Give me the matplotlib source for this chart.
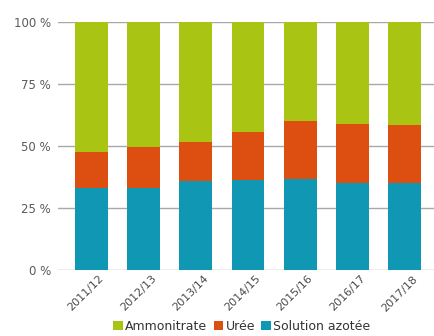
import matplotlib.pyplot as plt
import matplotlib.transforms as mtransforms
import numpy as np

campagnes = ["2011/12", "2012/13", "2013/14", "2014/15", "2015/16", "2016/17", "2017/18"]
solution_azotee = [33, 33.2, 36, 36.2, 36.7, 35, 35]
uree = [14.7, 16.5, 15.7, 19.6, 23.4, 23.8, 23.6]
ammonitrate = [100 - s - u for s, u in zip(solution_azotee, uree)]

vert = "#a9c412"
orange = "#dc4f10"
bleu = "#0f97b4"

plt.rcParams['font.family'] = ['DejaVu Sans']

fig = plt.figure(figsize=(4.35, 3.36), dpi=100)
ax = fig.add_axes([0.133, 0.196, 0.867, 0.7385])

x = np.arange(len(campagnes))
w = 0.63
ax.bar(x, solution_azotee, w, color=bleu, label="Solution azotée", zorder=2)
ax.bar(x, uree, w, bottom=solution_azotee, color=orange, label="Urée", zorder=2)
bas = [s + u for s, u in zip(solution_azotee, uree)]
ax.bar(x, ammonitrate, w, bottom=bas, color=vert, label="Ammonitrate", zorder=2)

ax.set_xlim(-0.64, 6.58)
ax.set_ylim(0, 100)
ax.set_yticks([0, 25, 50, 75, 100])
ax.set_yticklabels(["0 %", "25 %", "50 %", "75 %", "100 %"], color="#5a5a5a", fontsize=8.5)
ax.yaxis.grid(True, color="#a8a8a8", linewidth=1, zorder=0)
ax.tick_params(axis="y", length=0, pad=5)
ax.tick_params(axis="x", length=0, pad=0)
ax.set_xticks(x)
ax.set_xticklabels(campagnes, rotation=45, ha="right", va="center", rotation_mode="anchor",
                   color="#4a4a4a", fontsize=8)
decal = mtransforms.ScaledTranslation(0.11, -0.07, fig.dpi_scale_trans)
for t in ax.get_xticklabels():
    t.set_transform(t.get_transform() + decal)
for s in ax.spines.values():
    s.set_visible(False)

h, l = ax.get_legend_handles_labels()
fig.legend(h[::-1], l[::-1], loc="lower center", bbox_to_anchor=(0.556, -0.025), ncol=3,
           frameon=False, fontsize=9, handlelength=0.75, handleheight=0.75,
           handletextpad=0.2, columnspacing=0.5, labelcolor="#333333")

fig.savefig("out.png", dpi=100)
